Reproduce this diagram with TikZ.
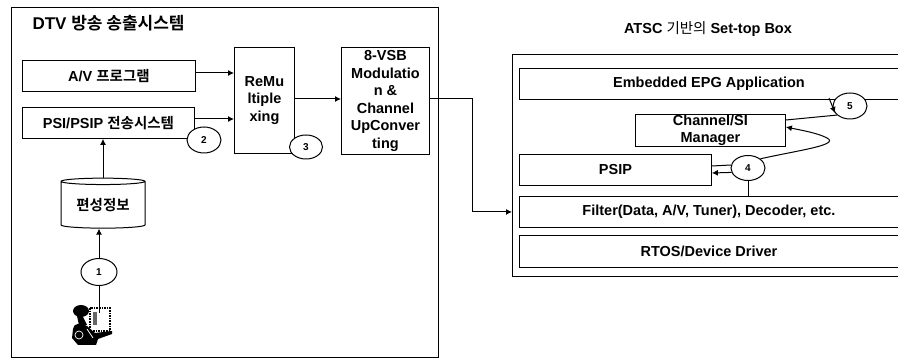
\documentclass[tikz,border=0pt]{standalone}
\usepackage{fontspec}
\setmainfont{Liberation Sans}[BoldFont=* Bold]
\newfontfamily\krfont{Noto Sans CJK KR}[BoldFont=* Bold]
\usetikzlibrary{shapes.geometric,arrows.meta}
\tikzset{
  lbl/.style={font=\fontsize{14.5}{17.5}\selectfont\bfseries,align=center},
  blk/.style={draw,line width=0.9pt,lbl,inner sep=0pt,anchor=north west},
  badge/.style={draw,ellipse,fill=white,line width=1pt,inner sep=0pt,
    font=\fontsize{10}{11}\selectfont\bfseries},
  link/.style={line width=1pt},
  flow/.style={link,-{Latex[length=6pt,width=6pt]}}
}
\newcommand{\kr}[1]{{\krfont\bfseries #1}}

\begin{document}
\begin{tikzpicture}[x=1pt,y=-1pt]
  \useasboundingbox (0,0) rectangle (898,358);

  % ====================================================
  % LEFT: TRANSMISSION SYSTEM
  % ====================================================
  \node[blk,minimum width=427pt,minimum height=350pt] (txsys) at (11,7) {};
  \node[lbl,anchor=west,font=\fontsize{17}{20}\selectfont\bfseries] (txtitle) at (29,23)
    {DTV \kr{방송 송출시스템}};

  \node[blk,minimum width=173pt,minimum height=31pt] (avprog) at (22,60) {A/V \kr{프로그램}};
  \node[blk,minimum width=172pt,minimum height=31pt] (psisys) at (22,107) {PSI/PSIP \kr{전송시스템}};
  \node[blk,minimum width=60pt,minimum height=106pt] (remux) at (234,47) {ReMu\\ltiple\\xing};
  \node[blk,minimum width=88pt,minimum height=107pt] (vsb) at (341,47)
    {8-VSB\\Modulatio\\n \&\\Channel\\UpConver\\ting};

  \node[cylinder,shape border rotate=90,aspect=0.12,draw,line width=1pt,lbl,
    minimum width=84pt,minimum height=50pt,inner sep=0pt] (epgdb) at (103,205) {\kr{편성정보}};

  \node[badge,minimum width=34pt,minimum height=26pt] (n2) at (204,140) {2};
  \node[badge,minimum width=33pt,minimum height=24pt] (n3) at (306,147) {3};
  \node[badge,minimum width=36pt,minimum height=27pt] (n1) at (99,272) {1};

  \draw[flow] (avprog.east |- 0,73) -- (remux.west |- 0,73);
  \draw[flow] (psisys.east |- 0,119) -- (remux.west |- 0,119);
  \draw[flow] (remux.east |- 0,99) -- (vsb.west |- 0,99);
  \draw[flow] (epgdb.north) -- (epgdb.north |- psisys.south);
  \draw[flow] (n1) -- (n1 |- epgdb.south);

  % operator at the terminal
  \coordinate (oper) at (99,313);
  \begin{scope}[shift={(60,295)}]
    \draw[densely dotted,line width=1.6pt] (30,13) rectangle (50,36);
    \fill[black!60] (33,17) rectangle (37,30);
    \fill (21,16) ellipse (8pt and 6pt);
    \fill (22,20) -- (27,30) -- (19,30) -- (17,21) -- cycle;
    \fill (13,34) .. controls (13,28) and (22,27) .. (27,31) -- (35,38) -- (52,36)
      -- (52,39) -- (38,44) -- (36,50) -- (18,50) -- (12,43) -- cycle;
    \draw[white,line width=0.7pt] (19,40) circle (4pt) (27,34) -- (33,43);
  \end{scope}
  \draw[link] (n1) -- (oper);

  % ====================================================
  % RIGHT: SET-TOP BOX
  % ====================================================
  \node[lbl,font=\fontsize{14.5}{16}\selectfont\bfseries] (stbtitle) at (708,29)
    {ATSC \textnormal{\krfont 기반의} Set-top Box};
  \node[blk,minimum width=386pt,minimum height=222pt] (stb) at (512,54) {};

  \node[blk,minimum width=379pt,minimum height=31pt] (epgapp) at (519,68) {Embedded EPG Application};
  \node[blk,minimum width=150pt,minimum height=32pt] (chmgr) at (635,114) {Channel/SI\\Manager};
  \node[blk,minimum width=192pt,minimum height=31pt] (psip) at (519,154) {PSIP};
  \node[blk,minimum width=379pt,minimum height=31pt] (filter) at (519,196) {Filter(Data, A/V, Tuner), Decoder, etc.};
  \node[blk,minimum width=379pt,minimum height=32pt] (rtos) at (519,235) {RTOS/Device Driver};

  \node[badge,minimum width=34pt,minimum height=26pt] (n5) at (850,106) {5};
  \node[badge,minimum width=34pt,minimum height=25pt] (n4) at (748,168) {4};

  \coordinate (epgfoot) at (829,98);
  \draw[flow] (epgfoot) -- (n5.205);
  \draw[link] (chmgr.east |- 0,120) -- (n5.215);
  \draw[flow] (n4.north east) .. controls (800,150) and (840,145) .. (827,138)
    .. controls (818,133) and (800,130) .. (chmgr.east |- 0,127);
  \draw[link] (n4.170) -- (psip.east |- 0,166);
  \draw[flow] (n4.195) -- (psip.east |- 0,173);
  \draw[link] (n4.south) -- (n4.south |- filter.north);

  % connection between the two systems
  \coordinate (bend) at (472,99);
  \draw[flow] (vsb.east |- bend) -- (bend) |- (stb.west |- filter.west);
\end{tikzpicture}
\end{document}
